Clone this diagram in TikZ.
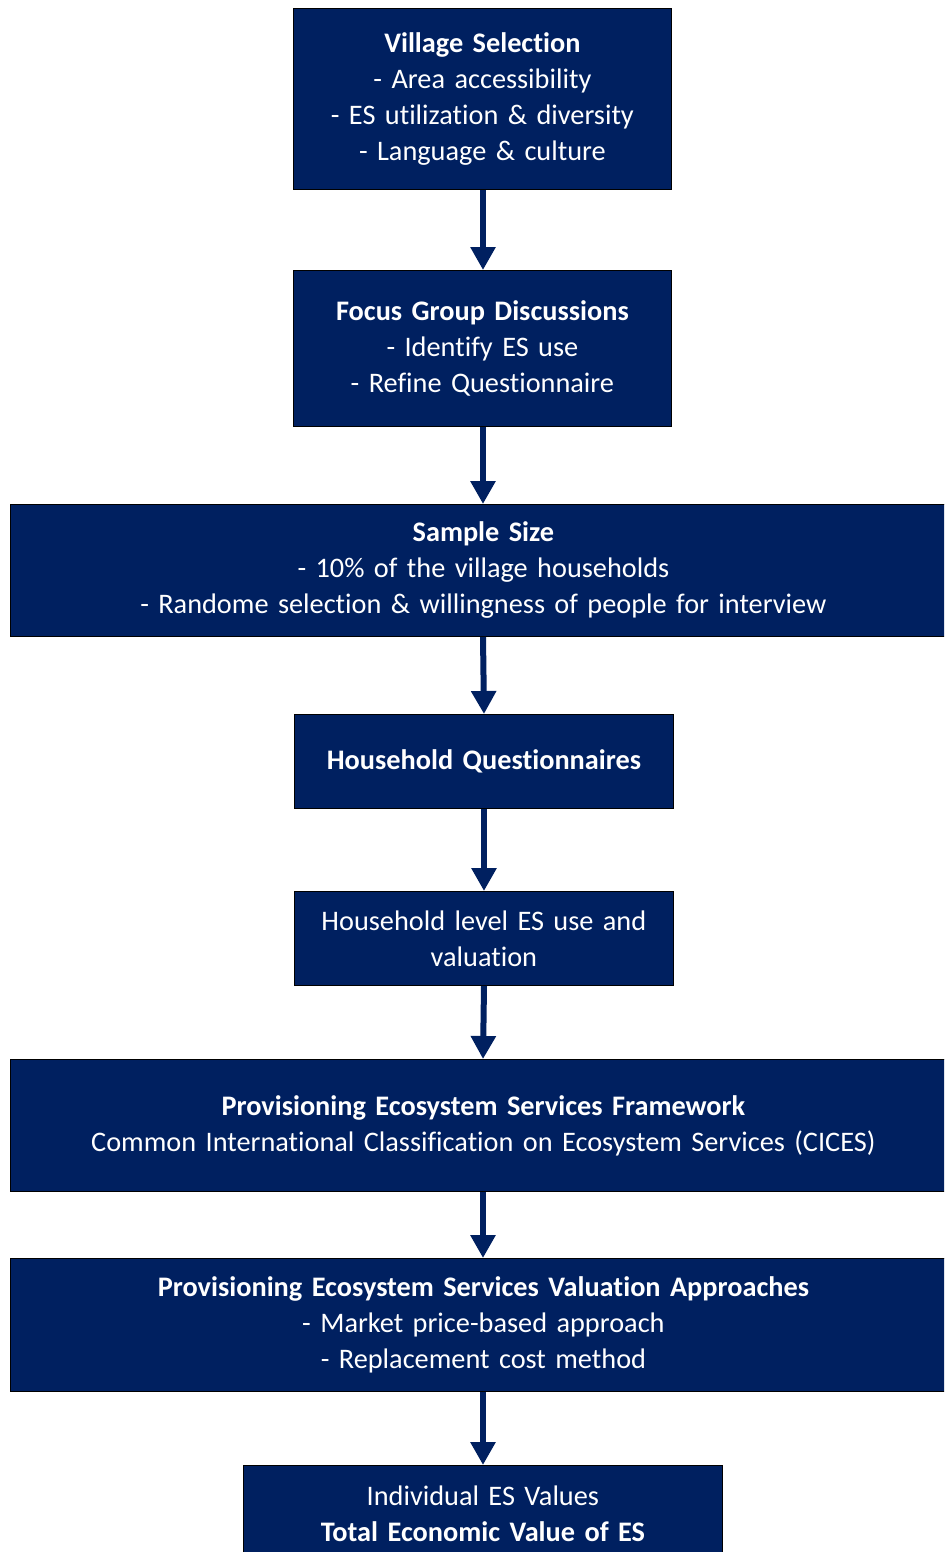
\documentclass[tikz,border=0pt]{standalone}
\usepackage{fontspec}
\setmainfont{Carlito}[Ligatures=NoCommon]
\usetikzlibrary{arrows.meta}
\definecolor{navy}{HTML}{002060}
\tikzset{
  stage/.style={draw=black, line width=0.8bp, fill=navy, text=white,
    align=center, inner sep=0pt, anchor=north west,
    font=\fontsize{28.3bp}{36bp}\selectfont},
  flow/.style={draw=navy, line width=6bp, -{Triangle[width=24bp,length=23bp]}}
}
\newcommand{\boxat}[6]{% name, x, y, width, height, text
  \node[stage, minimum width=#4bp, minimum height=#5bp, text width=#4bp] (#1) at (#2,#3) {#6};}
\begin{document}
\begin{tikzpicture}[x=1bp,y=-1bp]
\clip (0,0) rectangle (944,1552);
\fill[white] (0,0) rectangle (944,1552);

\boxat{village}{293}{8}{378}{181}{\textbf{Village Selection}\\- Area accessibility\\- ES utilization \& diversity\\- Language \& culture}
\boxat{focus}{293}{270}{378}{156}{\textbf{Focus Group Discussions}\\- Identify ES use\\- Refine Questionnaire}
\boxat{sample}{10}{504}{946}{132}{\textbf{Sample Size}\\- 10\% of the village households\\- Randome selection \& willingness of people for interview}
\boxat{questionnaire}{294}{714}{379}{94}{\textbf{Household Questionnaires}}
\boxat{level}{294}{891}{379}{94}{Household level ES use and\\valuation}
\boxat{framework}{10}{1059}{946}{132}{\textbf{Provisioning Ecosystem Services Framework}\\Common International Classification on Ecosystem Services (CICES)}
\boxat{valuation}{10}{1258}{946}{133}{\textbf{Provisioning Ecosystem Services Valuation Approaches}\\- Market price-based approach\\- Replacement cost method}
\boxat{total}{243}{1465}{479}{97}{Individual ES Values\\\textbf{Total Economic Value of ES}}

\draw[flow] (village.south -| 483,0) -- (focus.north -| 483,0);
\draw[flow] (focus.south -| 483,0) -- (sample.north -| 483,0);
\draw[flow] (sample.south -| 483,0) -- (questionnaire.north -| 484,0);
\draw[flow] (questionnaire.south -| 484,0) -- (level.north -| 484,0);
\draw[flow] (level.south -| 484,0) -- (framework.north -| 483,0);
\draw[flow] (framework.south -| 483,0) -- (valuation.north -| 483,0);
\draw[flow] (valuation.south -| 483,0) -- (total.north -| 483,0);
\end{tikzpicture}
\end{document}
